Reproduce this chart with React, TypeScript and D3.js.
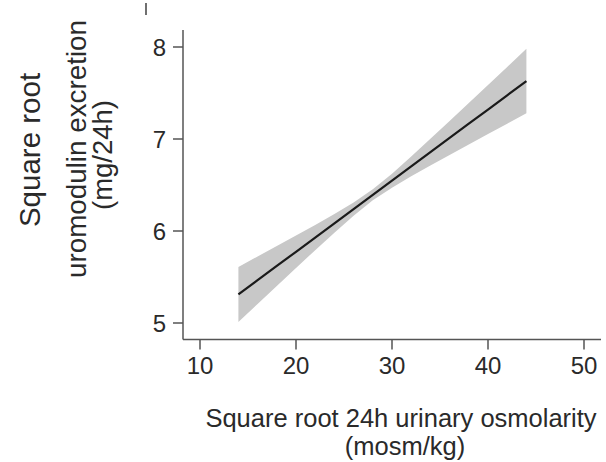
import React from "react";
import * as d3 from "d3";

const xValues = [14, 16, 18, 20, 22, 24, 26, 28, 30, 32, 34, 36, 38, 40, 42, 44];
const fitValues = [5.31, 5.465, 5.62, 5.774, 5.929, 6.083, 6.238, 6.393, 6.547, 6.702, 6.857, 7.011, 7.166, 7.32, 7.475, 7.63];
const lowerValues = [5.01, 5.207, 5.403, 5.597, 5.792, 5.982, 6.167, 6.333, 6.471, 6.594, 6.712, 6.826, 6.941, 7.053, 7.167, 7.28];
const upperValues = [5.61, 5.723, 5.837, 5.951, 6.066, 6.184, 6.309, 6.453, 6.623, 6.81, 7.002, 7.196, 7.391, 7.587, 7.783, 7.98];
const xTicks = [10, 20, 30, 40, 50];
const yTicks = [5, 6, 7, 8];
const xTitleLines = ["Square root 24h urinary osmolarity", "(mosm/kg)"];
const yTitleLines = ["Square root", "uromodulin excretion", "(mg/24h)"];

const W = 606;
const H = 462;
const FONT = "'Liberation Sans', Arial, Helvetica, sans-serif";

export default function App() {
  const x = d3.scaleLinear().domain([10, 50]).range([200, 584]);
  const y = d3.scaleLinear().domain([5, 8]).range([323, 47]);
  const axisX = 183;
  const axisY = 339.5;
  const xEnd = 601;
  const yTop = 30;

  const data = xValues.map((v, i) => ({ x: v, fit: fitValues[i], lo: lowerValues[i], hi: upperValues[i] }));
  const area = d3
    .area<{ x: number; fit: number; lo: number; hi: number }>()
    .x((d) => x(d.x))
    .y0((d) => y(d.lo))
    .y1((d) => y(d.hi));
  const line = d3
    .line<{ x: number; fit: number }>()
    .x((d) => x(d.x))
    .y((d) => y(d.fit));

  const textColor = "#2a2a2a";
  const axisColor = "#555";
  const yTitleX = [40, 86, 112];
  const yTitleSize = [29.5, 27.8, 27.5];
  const yTitleCenter = [150, 149, 155];

  return (
    <svg
      width={W}
      height={H}
      style={{ position: "absolute", left: 0, top: 0, background: "#fff" }}
      fontFamily={FONT}
    >
      <rect x={0} y={0} width={W} height={H} fill="#fff" />
      <line x1={146} x2={146} y1={3} y2={15} stroke="#333" strokeWidth={1.4} />
      <path d={area(data) || ""} fill="#c8c8c8" />
      <path d={line(data) || ""} fill="none" stroke="#1a1a1a" strokeWidth={2.2} />
      {/* y axis */}
      <line x1={axisX} x2={axisX} y1={yTop} y2={axisY} stroke={axisColor} strokeWidth={1.5} />
      {yTicks.map((t) => (
        <g key={"y" + t}>
          <line x1={axisX - 10} x2={axisX} y1={y(t)} y2={y(t)} stroke={axisColor} strokeWidth={1.5} />
          <text x={166} y={y(t)} dy="0.36em" textAnchor="end" fontSize={24} fill={textColor}>
            {t}
          </text>
        </g>
      ))}
      {/* x axis */}
      <line x1={axisX} x2={xEnd} y1={axisY} y2={axisY} stroke={axisColor} strokeWidth={1.5} />
      {xTicks.map((t) => (
        <g key={"x" + t}>
          <line x1={x(t)} x2={x(t)} y1={axisY} y2={axisY + 10} stroke={axisColor} strokeWidth={1.5} />
          <text x={x(t)} y={374} textAnchor="middle" fontSize={24} fill={textColor}>
            {t}
          </text>
        </g>
      ))}
      {/* x title */}
      <text x={401} y={427} textAnchor="middle" fontSize={25.5} fill={textColor}>
        {xTitleLines[0]}
      </text>
      <text x={405} y={455} textAnchor="middle" fontSize={25.5} fill={textColor}>
        {xTitleLines[1]}
      </text>
      {/* y title */}
      {yTitleLines.map((s, i) => (
        <text
          key={s}
          transform={`translate(${yTitleX[i]},${yTitleCenter[i]}) rotate(-90)`}
          textAnchor="middle"
          fontSize={yTitleSize[i]}
          fill={textColor}
        >
          {s}
        </text>
      ))}
    </svg>
  );
}
